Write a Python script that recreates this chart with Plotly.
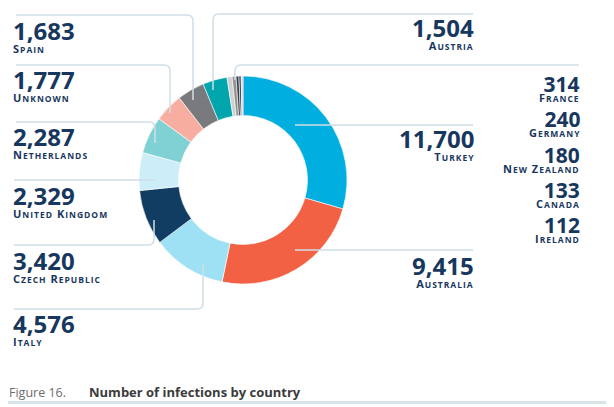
import plotly.graph_objects as go

# données
countries = ["Turkey", "Australia", "Italy", "Czech Republic", "United Kingdom",
             "Netherlands", "Unknown", "Spain", "Austria",
             "France", "Germany", "New Zealand", "Canada", "Ireland"]
infections = [11700, 9415, 4576, 3420, 2329, 2287, 1777, 1683, 1504, 314, 240, 180, 133, 112]
colors = ["#00afe0", "#f26144", "#9ee0f4", "#123d63", "#cdeef9", "#80d1d4", "#f7aea1",
          "#797a7e", "#00a5ae", "#cfd0d2", "#909195", "#3c3f46", "#1b3a5e", "#f6c6bb"]

# la page html a une marge de 8px : on décale tout
OFF = 8
W, H = 614 - OFF, 407 - OFF
NAVY = "#17375e"
LINE = "#cfdee6"
FONT = "Open Sans"


def px(x, y):
    return (x - OFF) / W, 1 - (y - OFF) / H


def small_caps(name, big=11, small=8.5):
    words = []
    for w in name.split(" "):
        words.append(w[0].upper() + f"<span style='font-size:{small}px'>{w[1:].upper()}</span>")
    return f"<span style='letter-spacing:1px;font-size:{big}px'>" + " ".join(words) + "</span>"


d0x, d0y = px(139, 284)
d1x, d1y = px(347, 76)

fig = go.Figure()
fig.add_trace(go.Pie(
    labels=countries,
    values=infections,
    marker=dict(colors=colors, line=dict(color="white", width=0.6)),
    hole=0.62,
    sort=False,
    direction="clockwise",
    rotation=0,
    textinfo="none",
    hoverinfo="label+value",
    showlegend=False,
    domain=dict(x=[d0x, d1x], y=[d0y, d1y]),
))

# position des étiquettes (x, haut des chiffres, alignement, taille)
label_pos = {
    "Spain": (14, 22, "left", 24),
    "Unknown": (14, 71, "left", 24),
    "Netherlands": (14, 128, "left", 24),
    "United Kingdom": (14, 187, "left", 24),
    "Czech Republic": (14, 252, "left", 24),
    "Italy": (14, 315, "left", 24),
    "Austria": (473, 19, "right", 24),
    "Turkey": (473, 130, "right", 24),
    "Australia": (473, 257, "right", 24),
    "France": (579, 76, "right", 21),
    "Germany": (579, 111, "right", 21),
    "New Zealand": (579, 147, "right", 21),
    "Canada": (579, 182, "right", 21),
    "Ireland": (579, 217, "right", 21),
}

annotations = []
for name, val in zip(countries, infections):
    x, y, al, size = label_pos[name]
    base = 9.8 if size == 24 else 7.8   # interligne = 1.3 * base
    ax, ay = px(x - 2 if al == "left" else x + 2, y - 0.356 * size)
    annotations.append(dict(
        x=ax, y=ay, xref="paper", yref="paper", xanchor=al, yanchor="top", align=al,
        text=f"<span style='font-size:{size}px'><b>{val:,}</b></span><br><b>{small_caps(name)}</b>",
        showarrow=False, font=dict(family=FONT, size=base, color=NAVY), borderpad=0,
    ))

# légende de la figure
cx, cy = px(8, 392)
annotations.append(dict(x=cx, y=cy, xref="paper", yref="paper", xanchor="left", yanchor="middle",
                        text="Figure 16.", showarrow=False, borderpad=0,
                        font=dict(family=FONT, size=12.5, color="#6d6d6d")))
cx, cy = px(88, 392)
annotations.append(dict(x=cx, y=cy, xref="paper", yref="paper", xanchor="left", yanchor="middle",
                        text="<b>Number of infections by country</b>", showarrow=False, borderpad=0,
                        font=dict(family=FONT, size=13, color="#3b3b3b")))


def path(points):
    # points: liste de (cmd, [(x, y), ...]) en pixels
    out = []
    for cmd, pts in points:
        out.append(cmd + " " + " ".join(f"{px(x, y)[0]:.5f},{px(x, y)[1]:.5f}" for x, y in pts))
    return " ".join(out)


leaders = [
    # Spain
    [("M", [(16, 15)]), ("L", [(187, 15)]), ("Q", [(193, 15), (193, 21)]), ("L", [(193, 100)])],
    # Unknown
    [("M", [(16, 65)]), ("L", [(164, 65)]), ("Q", [(170, 65), (170, 71)]), ("L", [(170, 113)])],
    # Netherlands
    [("M", [(16, 122)]), ("L", [(149, 122)]), ("Q", [(155, 122), (155, 128)]), ("L", [(155, 143)])],
    # United Kingdom
    [("M", [(14, 180)]), ("L", [(155, 180)])],
    # Czech Republic
    [("M", [(14, 245)]), ("L", [(148, 245)]), ("Q", [(154, 245), (154, 239)]), ("L", [(154, 220)])],
    # Italy
    [("M", [(14, 309)]), ("L", [(197, 309)]), ("Q", [(203, 309), (203, 303)]), ("L", [(203, 263)])],
    # Austria
    [("M", [(213, 90)]), ("L", [(213, 20)]), ("Q", [(213, 14), (219, 14)]), ("L", [(473, 14)])],
    # petits pays
    [("M", [(235, 80)]), ("L", [(235, 71)]), ("Q", [(235, 65), (241, 65)]), ("L", [(579, 65)])],
    # Turkey
    [("M", [(295, 125)]), ("L", [(473, 125)])],
    # Australia
    [("M", [(295, 250)]), ("L", [(473, 250)])],
]

shapes = [dict(type="path", xref="paper", yref="paper", path=path(p),
               line=dict(color=LINE, width=1.5), layer="above") for p in leaders]

# barre du bas
x0, y0 = px(8, 401)
x1, y1 = px(611, 404)
shapes.append(dict(type="rect", xref="paper", yref="paper", x0=x0, y0=y0, x1=x1, y1=y1,
                   line=dict(width=0), fillcolor="#d8e3ea"))

fig.update_layout(
    width=W, height=H,
    margin=dict(l=0, r=0, t=0, b=0),
    paper_bgcolor="white",
    plot_bgcolor="white",
    annotations=annotations,
    shapes=shapes,
)

fig.write_html("out.html")
